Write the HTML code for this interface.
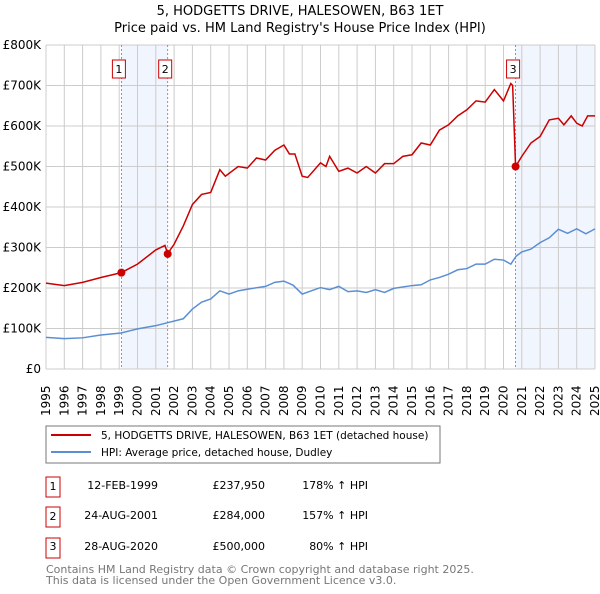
<!DOCTYPE html>
<html><head><meta charset="utf-8"><style>
body{margin:0;background:#fff;font-family:"DejaVu Sans","Liberation Sans",sans-serif;}
</style></head><body>
<svg id="c" width="600" height="590" xmlns="http://www.w3.org/2000/svg" font-family="DejaVu Sans, Liberation Sans, sans-serif">
<text x="300" y="15" text-anchor="middle" font-size="13">5, HODGETTS DRIVE, HALESOWEN, B63 1ET</text>
<text x="300" y="32" text-anchor="middle" font-size="13">Price paid vs. HM Land Registry's House Price Index (HPI)</text>
<g id="plot"></g>
<g>
<rect x="46" y="426" width="394" height="37" fill="#fff" stroke="#777"/>
<line x1="51" y1="435" x2="91" y2="435" stroke="#cc0000" stroke-width="2"/>
<text x="101" y="439" font-size="10.5">5, HODGETTS DRIVE, HALESOWEN, B63 1ET (detached house)</text>
<line x1="51" y1="452" x2="91" y2="452" stroke="#5b8fd4" stroke-width="2"/>
<text x="101" y="456" font-size="10.5">HPI: Average price, detached house, Dudley</text>
</g>
<g font-size="11">
<rect x="46" y="477" width="14" height="20" fill="#fff" stroke="#cc0000"/><text x="53" y="490" text-anchor="middle">1</text>
<text x="158" y="489" text-anchor="end">12-FEB-1999</text><text x="265" y="489" text-anchor="end">£237,950</text><text x="368" y="489" text-anchor="end">178% ↑ HPI</text>
<rect x="46" y="507" width="14" height="20" fill="#fff" stroke="#cc0000"/><text x="53" y="520" text-anchor="middle">2</text>
<text x="158" y="519" text-anchor="end">24-AUG-2001</text><text x="265" y="519" text-anchor="end">£284,000</text><text x="368" y="519" text-anchor="end">157% ↑ HPI</text>
<rect x="46" y="538" width="14" height="20" fill="#fff" stroke="#cc0000"/><text x="53" y="550" text-anchor="middle">3</text>
<text x="158" y="550" text-anchor="end">28-AUG-2020</text><text x="265" y="550" text-anchor="end">£500,000</text><text x="368" y="550" text-anchor="end">80% ↑ HPI</text>
</g>
<text x="46" y="573" font-size="11" fill="#777">Contains HM Land Registry data © Crown copyright and database right 2025.</text>
<text x="46" y="584" font-size="11" fill="#777">This data is licensed under the Open Government Licence v3.0.</text>
</svg>
<script>
const hpiYears=[1995,1996,1997,1998,1999.1,2000,2001,2001.7,2002.5,2003,2003.5,2004,2004.5,2005,2005.5,2006,2007,2007.5,2008,2008.5,2009,2009.5,2010,2010.5,2011,2011.5,2012,2012.5,2013,2013.5,2014,2015,2015.5,2016,2016.5,2017,2017.5,2018,2018.5,2019,2019.5,2020,2020.4,2020.7,2021,2021.5,2022,2022.5,2023,2023.5,2024,2024.5,2025];
const hpiValues=[78,75,77,84,89,99,107,115,124,148,165,173,193,185,193,197,204,214,217,207,185,193,201,196,204,191,193,189,196,189,199,206,208,220,226,234,245,248,259,259,271,269,259,279,289,296,312,324,345,335,346,334,346];
const priceYears=[1995,1996,1997,1998,1999.12,2000,2001,2001.5,2001.65,2002,2002.5,2003,2003.5,2004,2004.5,2004.8,2005.5,2006,2006.5,2007,2007.5,2008,2008.3,2008.6,2009,2009.3,2010,2010.3,2010.5,2011,2011.5,2012,2012.5,2013,2013.5,2014,2014.5,2015,2015.5,2016,2016.5,2017,2017.5,2018,2018.5,2019,2019.5,2020,2020.4,2020.5,2020.66,2021,2021.5,2022,2022.5,2023,2023.3,2023.7,2024,2024.3,2024.6,2025];
const priceValues=[212,206,214,226,238,259,294,305,285,308,353,406,431,436,492,476,500,496,521,516,540,553,531,531,476,473,509,500,525,488,496,484,500,484,507,507,525,529,558,553,590,603,625,640,662,659,690,662,705,700,500,525,558,574,615,619,603,625,607,600,625,625];
const saleYears=[1999.12,2001.65,2020.66];
const saleValues=[237.95,284,500];
const saleLabels=["1","2","3"];
const yTicks=[0,100,200,300,400,500,600,700,800];
const yTickLabels=["£0","£100K","£200K","£300K","£400K","£500K","£600K","£700K","£800K"];
const xYears=[1995,1996,1997,1998,1999,2000,2001,2002,2003,2004,2005,2006,2007,2008,2009,2010,2011,2012,2013,2014,2015,2016,2017,2018,2019,2020,2021,2022,2023,2024,2025];

const X0=46,X1=595,Y0=369,Y1=45;
const x=v=>X0+(v-1995)/30*(X1-X0);
const y=v=>Y0-v/800*(Y0-Y1);
const NS="http://www.w3.org/2000/svg";
const g=document.getElementById('plot');
function mk(t,a){const e=document.createElementNS(NS,t);for(const k in a)e.setAttribute(k,a[k]);g.appendChild(e);return e;}
for(const [a,b] of [[saleYears[0],saleYears[1]],[saleYears[2],2025]]){
 const r=mk('rect',{x:x(a),y:Y1,width:x(b)-x(a),height:Y0-Y1,fill:'#f1f5fd'});
 
 
}
for(const yr of xYears){
 const l=mk('line',{x1:x(yr),x2:x(yr),y1:Y1,y2:Y0,stroke:'#ccc','stroke-width':1});
 
 
 const t=mk('text',{transform:`translate(${x(yr)+4},${Y0+47}) rotate(-90)`,'font-size':12});
 t.textContent=yr;
 
 
}
yTicks.forEach((v,i)=>{
 const l=mk('line',{x1:X0,x2:X1,y1:y(v),y2:y(v),stroke:'#ccc','stroke-width':1});
 
 
 const t=mk('text',{x:X0-5,y:y(v)+4,'text-anchor':'end','font-size':12});
 t.textContent=yTickLabels[i];
 
 
});
saleYears.forEach((s,i)=>{
 const l=mk('line',{x1:x(s),x2:x(s),y1:Y1,y2:Y0,stroke:'#e05050','stroke-width':0.8,'stroke-dasharray':'2,2'});
 
 
});
const hp=mk('polyline',{points:hpiYears.map((t,i)=>x(t)+','+y(hpiValues[i])).join(' '),fill:'none',stroke:'#5b8fd4','stroke-width':1.5});


const pp=mk('polyline',{points:priceYears.map((t,i)=>x(t)+','+y(priceValues[i])).join(' '),fill:'none',stroke:'#cc0000','stroke-width':1.5});


saleYears.forEach((s,i)=>{
 const c=mk('circle',{cx:x(s),cy:y(saleValues[i]),r:4,fill:'#cc0000'});
 
 
 const bx=x(s)-9;
 const r=mk('rect',{x:bx,y:60,width:13,height:18,fill:'#fff',stroke:'#cc0000'});
 
 
 const t=mk('text',{x:bx+6.5,y:73,'text-anchor':'middle','font-size':11});
 t.textContent=saleLabels[i];
 
 
});
</script>
</body></html>
